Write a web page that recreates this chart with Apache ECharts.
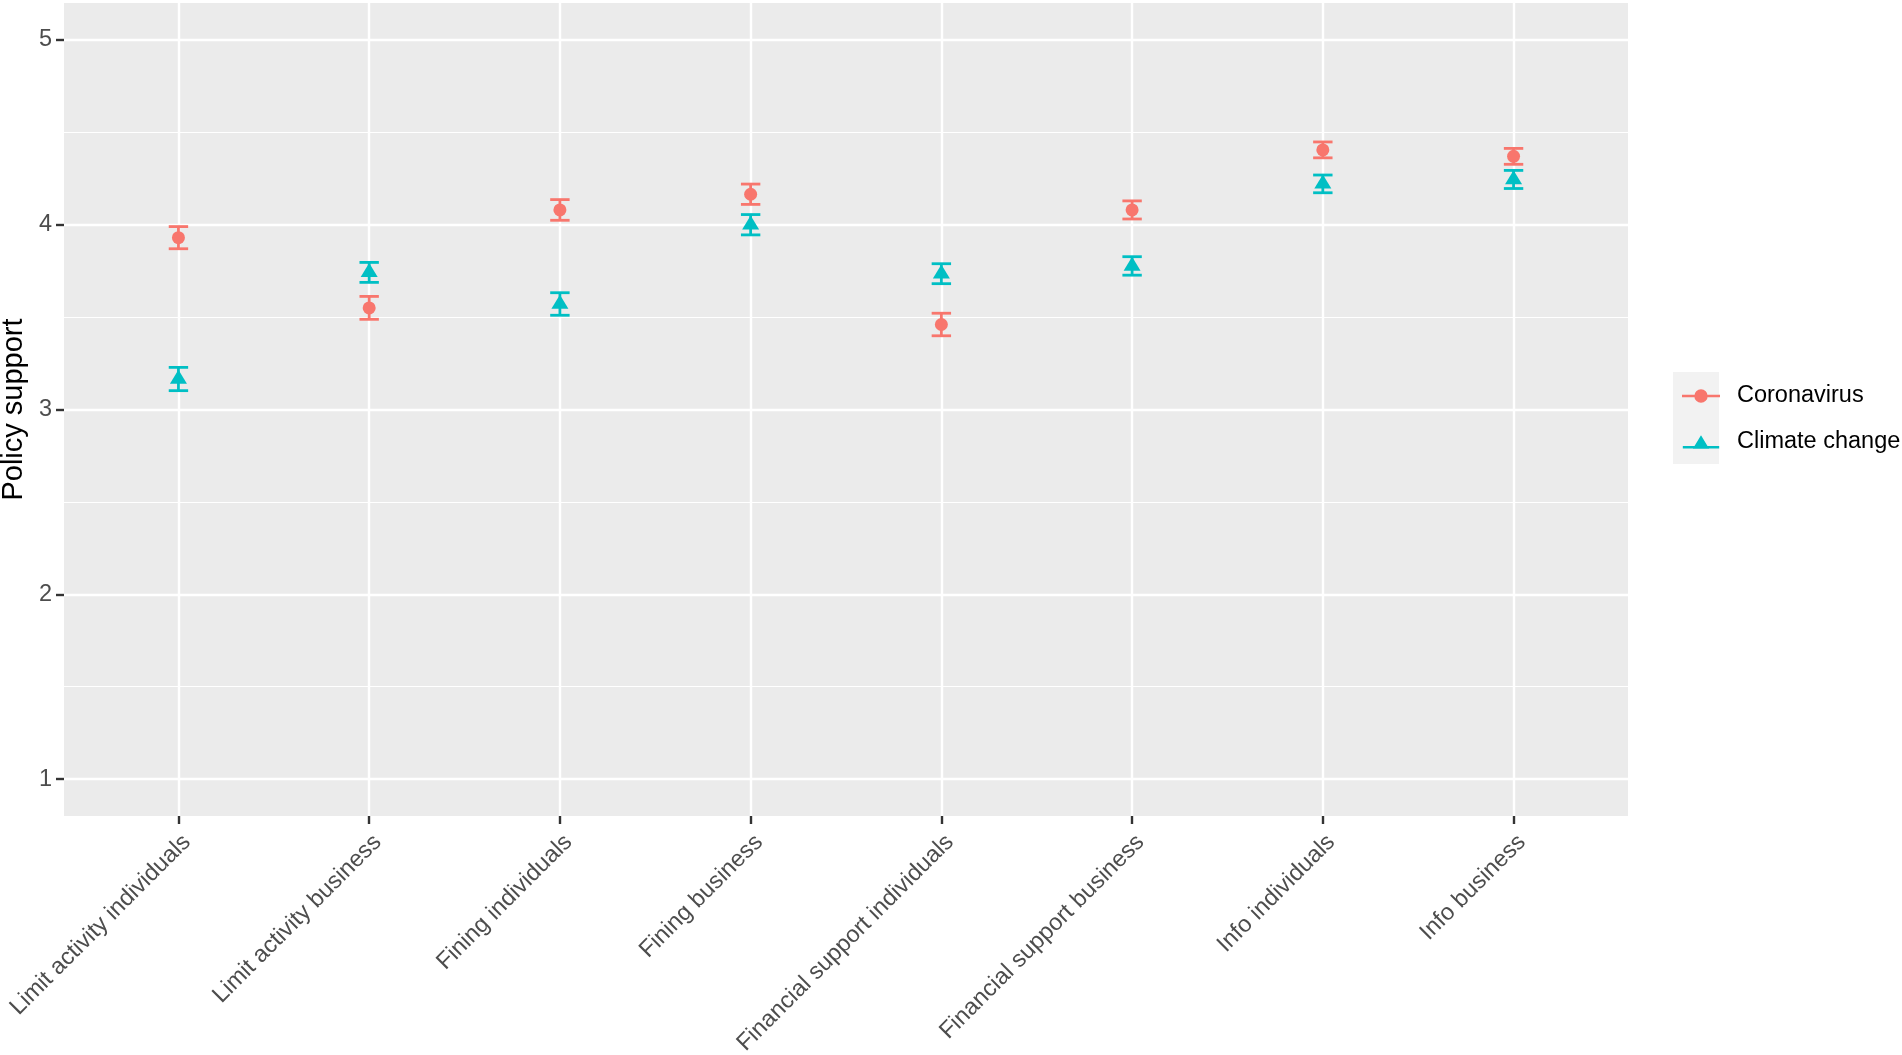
<!DOCTYPE html>
<html>
<head>
<meta charset="utf-8">
<script src="https://cdn.jsdelivr.net/npm/echarts@6/dist/echarts.min.js"></script>
<style>
html,body{margin:0;padding:0;background:#fff;}
#chart{width:1902px;height:1055px;}
</style>
</head>
<body>
<div id="chart"></div>
<script>
const categories = ['Limit activity individuals','Limit activity business','Fining individuals','Fining business','Financial support individuals','Financial support business','Info individuals','Info business'];
const seriesNames = ['Coronavirus','Climate change'];
const coronaMean = [3.93, 3.55, 4.08, 4.165, 3.46, 4.08, 4.405, 4.37];
const coronaErr  = [0.06, 0.062, 0.056, 0.055, 0.061, 0.049, 0.043, 0.043];
const climateMean = [3.165, 3.742, 3.571, 4.0, 3.735, 3.777, 4.221, 4.245];
const climateErr  = [0.063, 0.054, 0.061, 0.055, 0.054, 0.05, 0.048, 0.049];
const yTicks = [1, 2, 3, 4, 5];
const yMinorTicks = [1.5, 2.5, 3.5, 4.5];

const colCorona = '#F8766D';
const colClimate = '#00BFC4';
const FONT = '"Liberation Sans", Arial, sans-serif';
const xPos = categories.map((c, i) => i + 1);

function pts(mean){ return mean.map((v, i) => [xPos[i], v]); }
function errs(mean, err){ return mean.map((v, i) => [xPos[i], v - err[i], v + err[i]]); }

function errRenderer(color){
  return function(params, api){
    const x = api.value(0), lo = api.value(1), hi = api.value(2);
    const pLo = api.coord([x, lo]), pHi = api.coord([x, hi]);
    const hw = 9.7;
    const style = {stroke: color, lineWidth: 2.8, fill: null};
    return {type: 'group', children: [
      {type: 'line', shape: {x1: pLo[0], y1: pLo[1], x2: pHi[0], y2: pHi[1]}, style: style},
      {type: 'line', shape: {x1: pLo[0]-hw, y1: pLo[1], x2: pLo[0]+hw, y2: pLo[1]}, style: style},
      {type: 'line', shape: {x1: pHi[0]-hw, y1: pHi[1], x2: pHi[0]+hw, y2: pHi[1]}, style: style}
    ]};
  };
}

const chart = echarts.init(document.getElementById('chart'), null, {renderer: 'canvas'});
const option = {
  animation: false,
  backgroundColor: '#ffffff',
  textStyle: {fontFamily: FONT},
  grid: {left: 64, right: 274, top: 3, bottom: 239, show: true, backgroundColor: '#EBEBEB', borderWidth: 0, containLabel: false, outerBoundsMode: 'none'},
  xAxis: {
    type: 'value', min: 0.4, max: 8.6,
    axisLine: {show: false},
    axisTick: {show: true, customValues: xPos, length: 8, lineStyle: {color: '#333333', width: 2.4}},
    axisLabel: {show: true, customValues: xPos, rotate: 45, align: 'right', verticalAlign: 'top', margin: 14,
      fontSize: 23.5, color: '#4D4D4D', fontFamily: FONT,
      formatter: v => categories[Math.round(v) - 1] || ''},
    splitLine: {show: true, lineStyle: {color: '#ffffff', width: 2.4}}
  },
  yAxis: [{
    type: 'value', min: 0.8, max: 5.2,
    name: 'Policy support', nameLocation: 'middle', nameRotate: 90, nameGap: 33,
    nameTextStyle: {fontSize: 29, color: '#000000', fontFamily: FONT},
    axisLine: {show: false},
    axisTick: {show: true, customValues: yTicks, length: 8, lineStyle: {color: '#333333', width: 2.4}},
    axisLabel: {show: true, customValues: yTicks, margin: 12, fontSize: 23.5, color: '#4D4D4D', fontFamily: FONT},
    splitLine: {show: true, lineStyle: {color: '#ffffff', width: 2.4}}
  }, {
    type: 'value', min: 0.8, max: 5.2, position: 'left',
    axisLine: {show: false},
    axisTick: {show: false, customValues: yMinorTicks},
    axisLabel: {show: false, customValues: yMinorTicks},
    splitLine: {show: true, lineStyle: {color: '#ffffff', width: 1.2}}
  }],
  legend: {
    show: true, orient: 'vertical', left: 1677, top: 377,
    itemWidth: 38, itemHeight: 13.4, itemGap: 18,
    textStyle: {fontSize: 23.5, color: '#000000', fontFamily: FONT, lineHeight: 28, padding: [0, 0, 0, 12]},
    data: [
      {name: seriesNames[0], icon: 'path://M0,5.5 L38,5.5 L38,8 L0,8 Z M25.7,6.75 A6.7,6.7 0 1 1 12.3,6.75 A6.7,6.7 0 1 1 25.7,6.75 Z', itemStyle: {color: colCorona}},
      {name: seriesNames[1], icon: 'path://M0,11.3 L38,11.3 L38,13.8 L0,13.8 Z M19,0 L27.5,14 L10.5,14 Z', itemStyle: {color: colClimate}}
    ]
  },
  graphic: [{
    type: 'rect', left: 1673, top: 372, z: -1, silent: true,
    shape: {width: 46, height: 92}, style: {fill: '#F2F2F2'}
  }],
  series: [
    {name: seriesNames[0], type: 'custom', renderItem: errRenderer(colCorona), data: errs(coronaMean, coronaErr),
      encode: {x: 0, y: [1, 2]}, z: 2, itemStyle: {color: colCorona}},
    {name: seriesNames[1], type: 'custom', renderItem: errRenderer(colClimate), data: errs(climateMean, climateErr),
      encode: {x: 0, y: [1, 2]}, z: 2, itemStyle: {color: colClimate}},
    {name: seriesNames[0], type: 'scatter', data: pts(coronaMean), symbol: 'circle', symbolSize: 13,
      itemStyle: {color: colCorona, opacity: 1}, z: 3},
    {name: seriesNames[1], type: 'scatter', data: pts(climateMean), symbol: 'triangle', symbolSize: [17, 14], symbolOffset: [0, -2.3],
      itemStyle: {color: colClimate, opacity: 1}, z: 3}
  ]
};
chart.setOption(option);
</script>
</body>
</html>
